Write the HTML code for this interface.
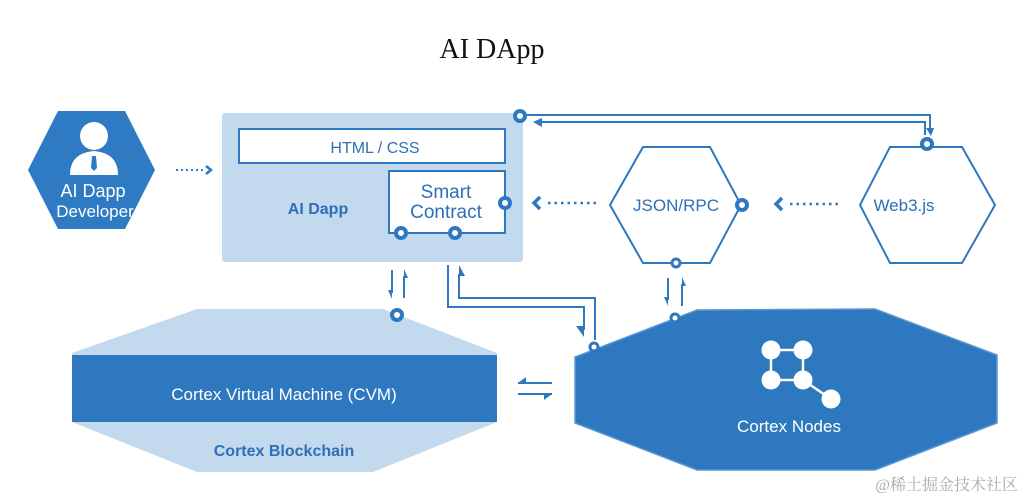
<!DOCTYPE html>
<html><head><meta charset="utf-8"><style>
html,body{margin:0;padding:0;background:#fff;width:1024px;height:500px;overflow:hidden}
svg{display:block}
.s{font-family:"Liberation Sans","DejaVu Sans",sans-serif}
</style></head><body>
<svg width="1024" height="500" viewBox="0 0 1024 500" xmlns="http://www.w3.org/2000/svg">
<text x="492" y="58" text-anchor="middle" font-family="Liberation Serif,serif" font-size="28" fill="#111">AI DApp</text>

<!-- developer hexagon -->
<polygon points="58,111 125,111 155,170 125,229 58,229 28,170" fill="#2e7bc4"/>
<circle cx="94" cy="136" r="14" fill="#fff"/>
<path d="M70,175 Q70,153 94,151 Q118,153 118,175 Z" fill="#fff"/>
<path d="M92,156 L96,156 L97,168 L94,171 L91,168 Z" fill="#2e7bc4"/>
<text x="93" y="197" text-anchor="middle" class="s" font-size="18" fill="#fff">AI Dapp</text>
<text x="95" y="217" text-anchor="middle" class="s" font-size="17" fill="#fff">Developer</text>
<line x1="176" y1="170" x2="203" y2="170" stroke="#2e78c0" stroke-width="2" stroke-dasharray="2,3"/>
<path d="M206,166 L211,170 L206,174" fill="none" stroke="#2e78c0" stroke-width="2.5"/>

<!-- AI Dapp box -->
<rect x="222" y="113" width="301" height="149" rx="3" fill="#c3d9ee"/>
<rect x="239" y="129" width="266" height="34" fill="#fff" stroke="#2e78c0" stroke-width="2"/>
<text x="375" y="153" text-anchor="middle" class="s" font-size="16" fill="#2e6fb5">HTML / CSS</text>
<rect x="389" y="171" width="116" height="62" fill="#fff" stroke="#2e78c0" stroke-width="2"/>
<text x="446" y="198" text-anchor="middle" class="s" font-size="19" fill="#2e6fb5">Smart</text>
<text x="446" y="218" text-anchor="middle" class="s" font-size="19" fill="#2e6fb5">Contract</text>
<text x="318" y="214" text-anchor="middle" class="s" font-size="16" font-weight="bold" fill="#2e6fb5">AI Dapp</text>
<g fill="#fff" stroke="#2e78c0" stroke-width="4">
<circle cx="401" cy="233" r="5"/><circle cx="455" cy="233" r="5"/><circle cx="505" cy="203" r="5"/><circle cx="520" cy="116" r="5"/>
</g>

<!-- top connector -->
<polyline points="527,115 930,115 930,130" fill="none" stroke="#2e78c0" stroke-width="2"/>
<path d="M926,128 L934,128 L931,136 Z" fill="#2e78c0"/>
<polyline points="925,135 925,122 537,122" fill="none" stroke="#2e78c0" stroke-width="2"/>
<path d="M533,122 L542,118 L542,127 Z" fill="#2e78c0"/>

<!-- JSON/RPC -->
<polygon points="643,147 710,147 741,205 710,263 643,263 610,205" fill="#fff" stroke="#2e78c0" stroke-width="2"/>
<text x="676" y="211" text-anchor="middle" class="s" font-size="17" fill="#2e6fb5">JSON/RPC</text>
<circle cx="742" cy="205" r="5" fill="#fff" stroke="#2e78c0" stroke-width="4"/>
<circle cx="676" cy="263" r="4" fill="#fff" stroke="#2e78c0" stroke-width="3"/>
<!-- Web3 -->
<polygon points="890,147 962,147 995,205 962,263 890,263 860,205" fill="#fff" stroke="#2e78c0" stroke-width="2"/>
<text x="904" y="211" text-anchor="middle" class="s" font-size="17" fill="#2e6fb5">Web3.js</text>
<circle cx="927" cy="144" r="5" fill="#fff" stroke="#2e78c0" stroke-width="4"/>

<!-- dotted arrows -->
<line x1="548" y1="203" x2="596" y2="203" stroke="#2e78c0" stroke-width="2.5" stroke-dasharray="2.5,4"/>
<path d="M540,197 L534,203 L540,209" fill="none" stroke="#2e78c0" stroke-width="3.5"/>
<line x1="790" y1="204" x2="838" y2="204" stroke="#2e78c0" stroke-width="2.5" stroke-dasharray="2.5,4"/>
<path d="M782,198 L776,204 L782,210" fill="none" stroke="#2e78c0" stroke-width="3.5"/>

<!-- Cortex Blockchain -->
<polygon points="197,309 383,309 497,353 497,422 373,472 197,472 72,422 72,353" fill="#c3d9ee"/>
<rect x="72" y="355" width="425" height="67" fill="#2e78c0"/>
<text x="284" y="400" text-anchor="middle" class="s" font-size="17" fill="#fff">Cortex Virtual Machine (CVM)</text>
<text x="284" y="456" text-anchor="middle" class="s" font-size="16" font-weight="bold" fill="#2e6fb5">Cortex Blockchain</text>
<circle cx="397" cy="315" r="5" fill="#fff" stroke="#2e78c0" stroke-width="4"/>

<!-- Cortex Nodes -->
<polygon points="697,310 875,309 997,355 997,423 875,470 697,470 575,423 575,357" fill="#2e78c0" stroke="#5a97d3" stroke-width="1.5"/>
<g stroke="#fff" stroke-width="2.5"><line x1="771" y1="350" x2="803" y2="350"/><line x1="771" y1="350" x2="771" y2="380"/><line x1="803" y1="350" x2="803" y2="380"/><line x1="771" y1="380" x2="803" y2="380"/><line x1="803" y1="380" x2="831" y2="399"/></g>
<g fill="#fff"><circle cx="771" cy="350" r="9.5"/><circle cx="803" cy="350" r="9.5"/><circle cx="771" cy="380" r="9.5"/><circle cx="803" cy="380" r="9.5"/><circle cx="831" cy="399" r="9.5"/></g>
<text x="789" y="432" text-anchor="middle" class="s" font-size="17" fill="#fff">Cortex Nodes</text>
<circle cx="594" cy="347" r="4" fill="#fff" stroke="#2e78c0" stroke-width="3"/>
<circle cx="675" cy="318" r="4" fill="#fff" stroke="#2e78c0" stroke-width="3"/>

<!-- vertical pairs -->
<g fill="none" stroke="#2e78c0" stroke-width="2">
<line x1="392" y1="270" x2="392" y2="293"/><line x1="404" y1="276" x2="404" y2="298"/>
<line x1="668" y1="278" x2="668" y2="300"/><line x1="682" y1="284" x2="682" y2="306"/>
<polyline points="448,265 448,307 584,307 584,330"/>
<polyline points="595,340 595,298 459,298 459,274"/>
<line x1="518" y1="383" x2="552" y2="383"/><line x1="518" y1="394" x2="552" y2="394"/>
</g>
<g fill="#2e78c0">
<path d="M388,290 L392,299 L392,290 Z"/><path d="M404,269 L408,278 L404,278 Z"/>
<path d="M664,297 L668,306 L668,297 Z"/><path d="M682,277 L686,286 L682,286 Z"/>
<path d="M576,326 L584,337 L584,326 Z"/><path d="M459,265 L465,276 L459,276 Z"/>
<path d="M518,383 L526,377 L526,383 Z"/><path d="M552,394 L544,400 L544,394 Z"/>
</g>

<text x="1018" y="490" text-anchor="end" font-family="Liberation Serif,'Noto Serif CJK SC',serif" font-size="16" fill="#aaa">@稀土掘金技术社区</text>
</svg>
</body></html>
